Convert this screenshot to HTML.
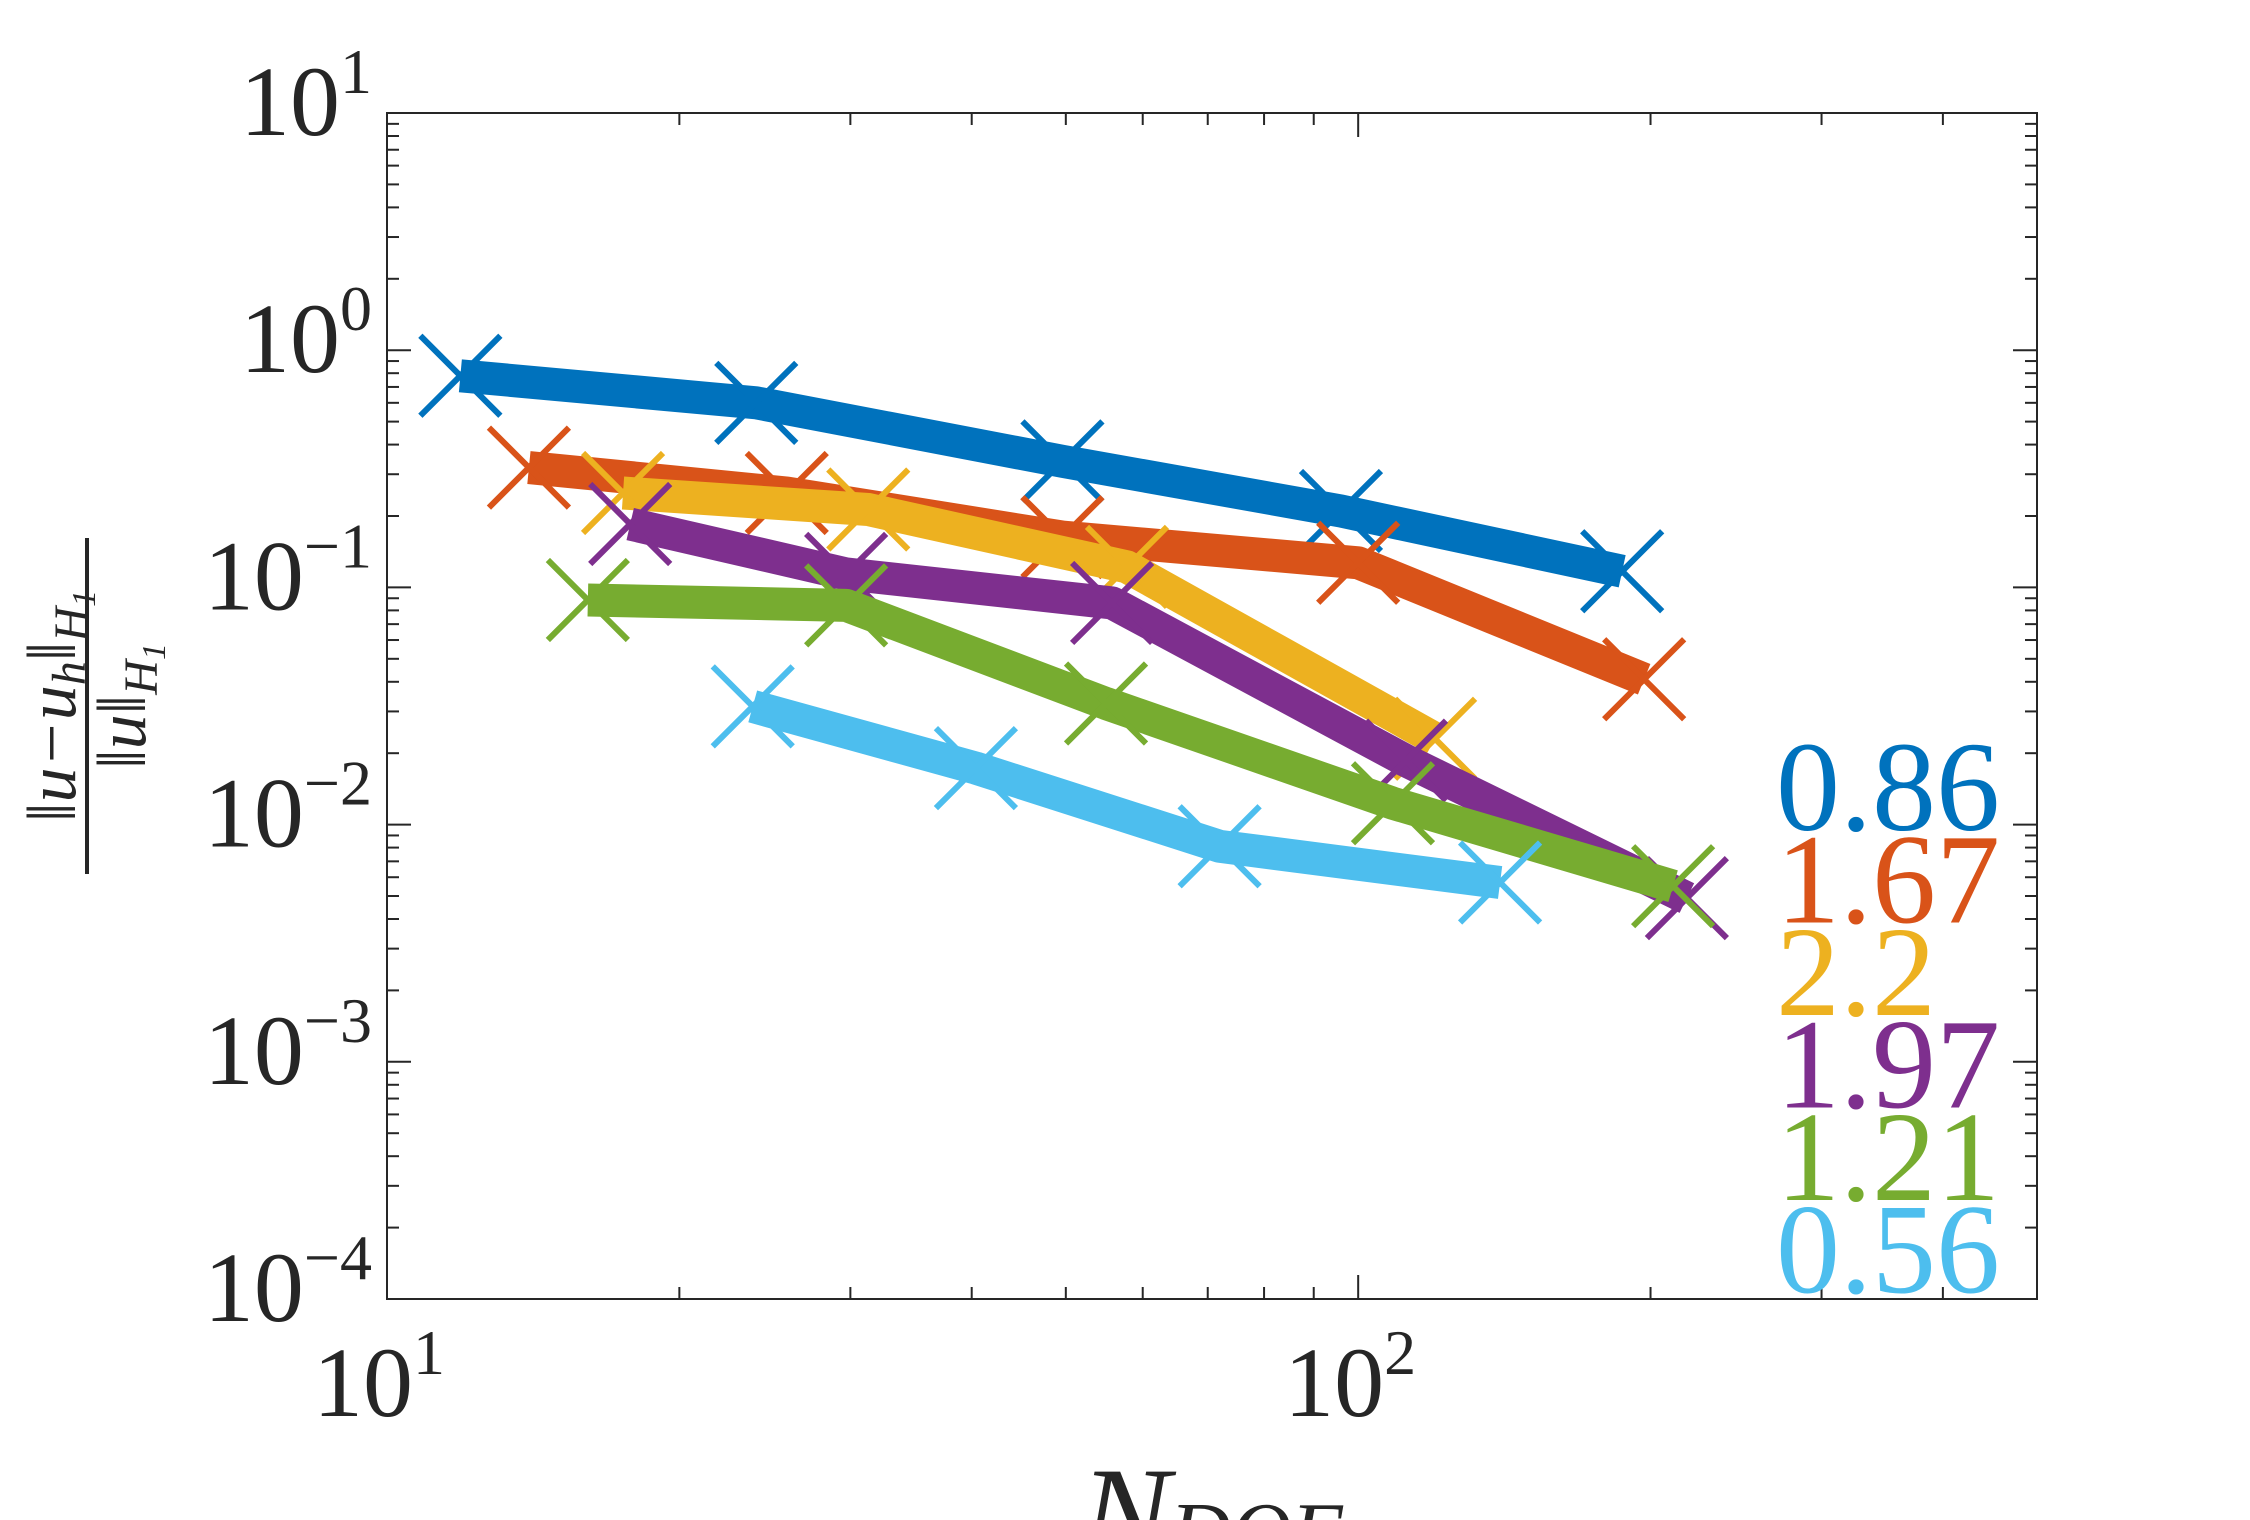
<!DOCTYPE html>
<html><head><meta charset="utf-8"><style>
html,body{margin:0;padding:0;background:#fff;}
svg{display:block;font-family:"Liberation Serif",serif;}
</style></head><body>
<svg id="chart" width="2250" height="1520" viewBox="0 0 2250 1520" xmlns="http://www.w3.org/2000/svg">
<rect width="2250" height="1520" fill="#fff"/>
<g id="axes"></g>
<g id="series"></g>
<g transform="translate(87,706) rotate(-90)">
 <text x="0" y="-12" text-anchor="middle" font-size="70" font-style="italic" fill="#262626">‖u−u<tspan font-size="48" dy="10">h</tspan><tspan dy="-10">‖</tspan><tspan font-size="48" dy="12">H</tspan><tspan font-size="34" dy="8">1</tspan></text>
 <line x1="-168" y1="0" x2="168" y2="0" stroke="#262626" stroke-width="4"/>
 <text x="0" y="58" text-anchor="middle" font-size="70" font-style="italic" fill="#262626">‖u‖<tspan font-size="48" dy="12">H</tspan><tspan font-size="34" dy="8">1</tspan></text>
</g>
<text x="1080" y="1560" font-size="135" font-style="italic" fill="#262626">N<tspan font-size="84">DOF</tspan></text>
<g id="rates"></g>
</svg>
<script>
const seriesNames = ['s1','s2','s3','s4','s5','s6'];
const colors = ['#0072BD','#D95319','#EDB120','#7E2F8E','#77AC30','#4DBEEE'];
const xS1 = [11.9, 24, 49.6, 96, 187];
const yS1 = [0.78, 0.60, 0.34, 0.21, 0.117];
const xS2 = [14, 25.8, 49.6, 100, 197];
const yS2 = [0.32, 0.25, 0.163, 0.127, 0.041];
const xS3 = [17.5, 31.3, 57.8, 120];
const yS3 = [0.25, 0.213, 0.122, 0.023];
const xS4 = [17.8, 29.7, 55.8, 112, 218];
const yS4 = [0.185, 0.114, 0.086, 0.0186, 0.0049];
const xS5 = [16.1, 29.7, 55, 108.6, 211];
const yS5 = [0.0885, 0.084, 0.0324, 0.0123, 0.0055];
const xS6 = [23.8, 40.4, 72, 140];
const yS6 = [0.0315, 0.0173, 0.0081, 0.0057];
const rateLabels = ['0.86','1.67','2.2','1.97','1.21','0.56'];
const xTickVals = [10, 100];
const xTickExp = ['1','2'];
const yTickVals = [10, 1, 0.1, 0.01, 0.001, 0.0001];
const yTickExp = ['1','0','−1','−2','−3','−4'];

const NS='http://www.w3.org/2000/svg';
const L=387,R=2037,T=113,B=1299;
const xMin=10,xMax=500,yMin=1e-4,yMax=10;
function xs(v){return L+(Math.log10(v)-Math.log10(xMin))/(Math.log10(xMax)-Math.log10(xMin))*(R-L);}
function ys(v){return B-(Math.log10(v)-Math.log10(yMin))/(Math.log10(yMax)-Math.log10(yMin))*(B-T);}
function mk(tag,attrs,parent){const e=document.createElementNS(NS,tag);for(const k in attrs)e.setAttribute(k,attrs[k]);parent.appendChild(e);return e;}

const ax=document.getElementById('axes');
const box=mk('rect',{x:L,y:T,width:R-L,height:B-T,fill:'none',stroke:'#262626','stroke-width':2},ax);


for(let d=10;d<=100;d*=10){for(let m=1;m<10;m++){const v=d*m;if(v>xMax)break;const x=xs(v);const len=m===1?24:12;
 mk('line',{x1:x,y1:B,x2:x,y2:B-len,stroke:'#262626','stroke-width':2},ax);
 mk('line',{x1:x,y1:T,x2:x,y2:T+len,stroke:'#262626','stroke-width':2},ax);}}
for(let e=-4;e<1;e++){for(let m=1;m<10;m++){const v=m*Math.pow(10,e);const y=ys(v);const len=m===1?24:12;
 mk('line',{x1:L,y1:y,x2:L+len,y2:y,stroke:'#262626','stroke-width':2},ax);
 mk('line',{x1:R,y1:y,x2:R-len,y2:y,stroke:'#262626','stroke-width':2},ax);}}
xTickVals.forEach((v,i)=>{const t=mk('text',{x:xs(v)-8,y:1416,'text-anchor':'middle','font-size':100,fill:'#262626'},ax);
 
 
 t.innerHTML='10<tspan font-size="64" dy="-42">'+xTickExp[i]+'</tspan>';});
yTickVals.forEach((v,i)=>{const t=mk('text',{x:372,y:ys(v)+22,'text-anchor':'end','font-size':100,fill:'#262626'},ax);
 
 
 t.innerHTML='10<tspan font-size="64" dy="-42">'+yTickExp[i]+'</tspan>';});

const sg=document.getElementById('series');
const allX=[xS1,xS2,xS3,xS4,xS5,xS6], allY=[yS1,yS2,yS3,yS4,yS5,yS6];
allX.forEach((xa,si)=>{const ya=allY[si];const g=mk('g',{},sg);
 
 
 const pts=xa.map((x,i)=>xs(x)+','+ys(ya[i])).join(' ');
 const pl=mk('polyline',{points:pts,fill:'none',stroke:colors[si],'stroke-width':33,'stroke-linejoin':'round'},g);
 
 
 xa.forEach((x,i)=>{const cx=xs(x),cy=ys(ya[i]),s=40;
  const p=mk('path',{d:`M${cx-s},${cy-s}L${cx+s},${cy+s}M${cx-s},${cy+s}L${cx+s},${cy-s}`,stroke:colors[si],'stroke-width':6,fill:'none'},g);
  
  });
});
const rg=document.getElementById('rates');
rateLabels.forEach((s,i)=>{const t=mk('text',{x:1776,y:830+i*92.5,'font-size':128,fill:colors[i]},rg);
 
 
 t.textContent=s;});
</script>
</body></html>
